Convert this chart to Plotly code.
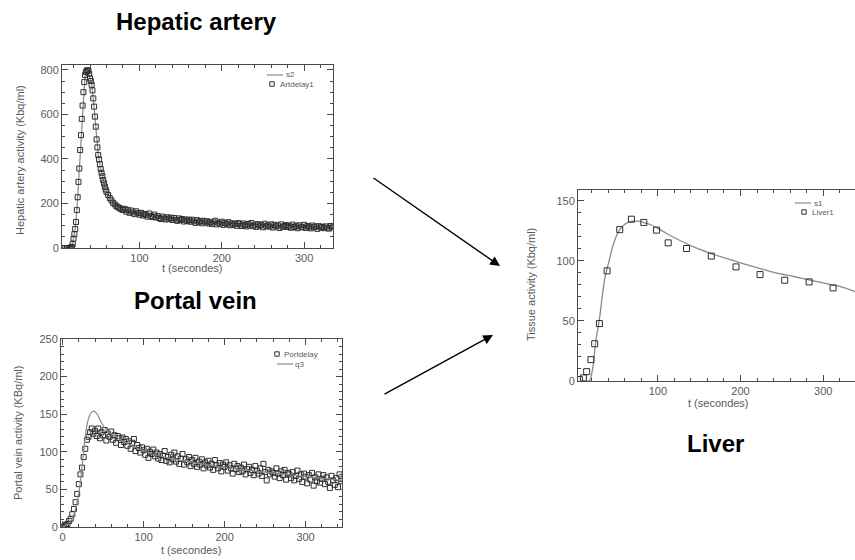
import plotly.graph_objects as go

W, H = 855, 560

# ---------------- Hepatic artery ----------------
art_t_early = [6, 8, 10, 12, 14,
               16, 17, 18, 19, 20, 21, 22, 23, 24, 25,
               26, 27, 28, 29, 30, 31, 32, 33, 34, 35,
               36, 37, 38, 39, 40, 41, 42, 43, 44, 45,
               46, 47, 48, 49, 50, 51, 52, 53, 54, 55,
               56, 57, 58, 59, 60,
               62, 64, 66, 68, 70, 72, 74, 76, 78, 80]
art_v_early = [0, 0, 0, 0, 0,
               1, 2, 5, 18, 42, 62, 85, 117, 170, 228,
               297, 357, 440, 507, 580, 640, 700, 745, 777, 790,
               797, 798, 796, 783, 762, 750, 733, 708, 672, 635,
               590, 545, 488, 452, 418, 398, 376, 355, 338, 322,
               305, 291, 276, 263, 252,
               238, 224, 214, 203, 196, 188, 183, 179, 174, 171]
art_t_tail = list(range(82, 335, 2))
art_v_tail = [176, 163, 171, 158, 168, 160, 152, 165, 157, 150,
              158, 146, 153, 149, 141, 155, 144, 139, 150, 137,
              143, 135, 130, 141, 133, 128, 138, 131, 136, 126,
              135, 127, 122, 133, 126, 130, 119, 128, 121, 127,
              118, 127, 120, 113, 125, 116, 121, 111, 122, 115,
              120, 110, 117, 108, 115, 122, 106, 114, 109, 118,
              104, 113, 107, 116, 102, 111, 105, 109, 100, 112,
              106, 99, 110, 103, 97, 108, 101, 112, 98, 105,
              95, 107, 100, 104, 93, 109, 98, 102, 96, 106,
              92, 104, 97, 101, 90, 106, 95, 99, 103, 94,
              100, 91, 105, 94, 98, 89, 102, 96, 93, 104,
              90, 99, 95, 88, 101, 93, 97, 86, 98, 92,
              95, 89, 97, 91, 87, 99, 93]
art_t = art_t_early + art_t_tail
art_v = art_v_early + art_v_tail

s2_t = [6, 16, 18, 20, 22, 24, 26, 28, 30, 32, 34, 36, 38, 40, 42, 44, 46, 48, 50,
        52, 54, 56, 58, 60, 65, 70, 80, 90, 100, 120, 140, 160, 180, 200, 220,
        240, 260, 280, 300, 320, 335]
s2_v = [0, 0, 5, 40, 85, 170, 295, 440, 580, 700, 775, 797, 797, 762, 735, 672, 590,
        485, 420, 375, 340, 305, 275, 252, 218, 195, 172, 162, 155, 140, 132, 124,
        117, 112, 108, 104, 101, 98, 96, 94, 93]

# ---------------- Portal vein ----------------
port_t = list(range(0, 345, 2))
port_v = [0, 1, 3, 4, 8, 11, 17, 24, 33, 44,
          57, 70, 79, 93, 104, 116, 120, 126, 131, 124,
          128, 121, 131, 118, 126, 122, 129, 115, 124, 120,
          127, 116, 122, 112, 121, 118, 109, 119, 113, 117,
          108, 114, 104, 112, 117, 101, 109, 105, 99, 106,
          102, 96, 104, 92, 100, 97, 103, 94, 99, 91,
          97, 89, 95, 101, 88, 93, 86, 96, 90, 99,
          87, 94, 84, 91, 97, 83, 90, 86, 93, 81,
          89, 84, 92, 80, 87, 83, 90, 78, 86, 82,
          88, 79, 84, 76, 89, 82, 78, 85, 74, 83,
          80, 86, 75, 82, 78, 71, 84, 77, 81, 73,
          79, 74, 83, 70, 77, 80, 72, 76, 69, 81,
          75, 71, 78, 68, 84, 73, 62, 76, 70, 74,
          72, 67, 78, 71, 65, 74, 69, 76, 63, 72,
          70, 65, 73, 62, 68, 75, 64, 70, 60, 71,
          67, 58, 69, 63, 72, 55, 66, 61, 70, 59,
          64, 69, 57, 66, 60, 52, 68, 62, 56, 65,
          53, 70, 61]

q3_t = [0, 5, 10, 15, 20, 24, 27, 30, 34, 38, 42, 46, 50, 55, 60, 70, 80, 100,
        130, 160, 200, 250, 300, 345]
q3_v = [0, 3, 8, 20, 45, 80, 110, 135, 150, 154, 151, 143, 135, 128, 124, 117,
        111, 101, 92, 86, 79, 73, 67, 62]

# ---------------- Liver ----------------
liver_t = [5.1, 9.9, 13.9, 19.0, 23.6, 29.3, 38.6, 53.9, 68, 83, 98.4, 112.5,
           134.7, 164.6, 194.5, 223.6, 253.5, 283, 312]
liver_v = [1.2, 2.6, 7.8, 17.8, 31, 47.8, 91.7, 126, 134.7, 132, 125.6, 115,
           110.3, 104, 95, 88.6, 83.9, 82.5, 77.5]

s1_t = [15, 18, 20, 22, 24, 26, 28, 30, 33, 36, 38, 41, 45, 50, 55, 60, 65, 70,
        78, 85, 90, 100, 110, 122, 142, 162, 183, 203, 223, 243, 264, 284, 304,
        324, 340]
s1_v = [0, 1, 6, 14, 28, 38, 46, 55, 72, 86, 92, 100, 111, 121, 127, 130.5,
        132.3, 133, 133, 131.5, 130.5, 127, 123, 118.6, 112, 106.7, 102, 97.8,
        93.8, 90, 87, 84, 81, 78, 74]

# ---------------- helpers ----------------
def px(x):
    return x / W


def py(y):
    return 1 - y / H


FRAME = "#4a4a4a"
TXT = "#5a5a5a"
MK = "#2e2e2e"
LN = "#8a8a8a"
FONT = "Liberation Sans"

fig = go.Figure()

mk = dict(symbol="square-open", size=5, color=MK, line=dict(width=1, color=MK))

fig.add_trace(go.Scatter(x=s2_t, y=s2_v, mode="lines", line=dict(color=LN, width=1.2),
                         xaxis="x", yaxis="y", showlegend=False))
fig.add_trace(go.Scatter(x=art_t, y=art_v, mode="markers", marker=mk,
                         xaxis="x", yaxis="y", showlegend=False))

fig.add_trace(go.Scatter(x=port_t, y=port_v, mode="markers", marker=mk,
                         xaxis="x2", yaxis="y2", showlegend=False))
fig.add_trace(go.Scatter(x=q3_t, y=q3_v, mode="lines", line=dict(color=LN, width=1.2, shape="spline"),
                         xaxis="x2", yaxis="y2", showlegend=False))

fig.add_trace(go.Scatter(x=s1_t, y=s1_v, mode="lines", line=dict(color=LN, width=1.3, shape="spline"),
                         xaxis="x3", yaxis="y3", showlegend=False))
fig.add_trace(go.Scatter(x=liver_t, y=liver_v, mode="markers",
                         marker=dict(symbol="square-open", size=6, color=MK, line=dict(width=1, color=MK)),
                         xaxis="x3", yaxis="y3", showlegend=False))


def axis(domain, rng, dtick, minor, anchor, mirror="ticks", showline=True):
    return dict(domain=domain, range=rng, dtick=dtick, tick0=0, anchor=anchor,
                showgrid=False, zeroline=False, showline=showline, mirror=mirror,
                linecolor=FRAME, linewidth=1, ticks="inside", ticklen=6,
                tickcolor=FRAME, tickwidth=1,
                minor=dict(ticks="inside", dtick=minor, tick0=0, ticklen=3,
                           tickcolor=FRAME, tickwidth=1, showgrid=False),
                tickfont=dict(family=FONT, size=11, color=TXT),
                automargin=False)


layout = dict(
    width=W, height=H, margin=dict(l=0, r=0, t=0, b=0),
    paper_bgcolor="white", plot_bgcolor="white",
    xaxis=axis([px(62), px(333)], [6, 335], 100, 20, "y"),
    yaxis=axis([py(248), py(65)], [0, 822], 200, 50, "x"),
    xaxis2=axis([px(61), px(342)], [-2, 345], 100, 20, "y2"),
    yaxis2=axis([py(527), py(339)], [0, 250], 50, 10, "x2"),
    xaxis3=axis([px(578), 1.0], [3.4, 338.5], 100, 20, "y3"),
    yaxis3=axis([py(381), py(190)], [0, 159], 50, 10, "x3", mirror=False),
)
fig.update_layout(**layout)

ann = []


def text(x, y, s, size=11, color=TXT, angle=0, bold=False, xanchor="center", family=FONT):
    ann.append(dict(x=px(x), y=py(y), xref="paper", yref="paper", text=("<b>%s</b>" % s) if bold else s,
                    showarrow=False, xanchor=xanchor, yanchor="middle", textangle=angle,
                    font=dict(family=family, size=size, color=color)))


# big titles
text(196, 22, "Hepatic artery", size=24, color="black", bold=True)
text(195, 300, "Portal vein", size=24, color="black", bold=True)
text(715, 443, "Liver", size=24, color="black", bold=True)

# axis titles
text(192, 268, "t (secondes)")
text(20, 160, "Hepatic artery activity (Kbq/ml)", angle=-90)
text(191, 550, "t (secondes)")
text(18, 433, "Portal vein activity (KBq/ml)", angle=-90)
text(718, 403, "t (secondes)")
text(531, 285, "Tissue activity (Kbq/ml)", angle=-90)

# legends
shapes = []


def legline(x0, x1, y):
    shapes.append(dict(type="line", xref="paper", yref="paper", x0=px(x0), x1=px(x1),
                       y0=py(y), y1=py(y), line=dict(color=LN, width=1.2)))


def legsq(x, y, s=2.2):
    shapes.append(dict(type="rect", xref="paper", yref="paper", x0=px(x - s), x1=px(x + s),
                       y0=py(y + s), y1=py(y - s), line=dict(color=MK, width=1)))


LF = 8
legline(267, 283, 75)
text(284, 75, "s2", size=LF, xanchor="left")
legsq(272, 84)
text(278, 84, "Artdelay1", size=LF, xanchor="left")

legsq(277, 354)
text(282, 354, "Portdelay", size=LF, xanchor="left")
legline(277, 293, 364)
text(293, 364, "q3", size=LF, xanchor="left")

legline(795, 811, 203)
text(812, 203, "s1", size=LF, xanchor="left")
legsq(804, 212)
text(810, 212, "Liver1", size=LF, xanchor="left")

# arrows
ann.append(dict(x=px(500), y=py(266), xref="paper", yref="paper", ax=372 - 500, ay=177 - 266,
                showarrow=True, arrowhead=2, arrowsize=1.4, arrowwidth=1.4, arrowcolor="black", text=""))
ann.append(dict(x=px(493), y=py(335), xref="paper", yref="paper", ax=383 - 493, ay=395 - 335,
                showarrow=True, arrowhead=2, arrowsize=1.4, arrowwidth=1.4, arrowcolor="black", text=""))

fig.update_layout(annotations=ann, shapes=shapes)

fig.write_html("out.html")
